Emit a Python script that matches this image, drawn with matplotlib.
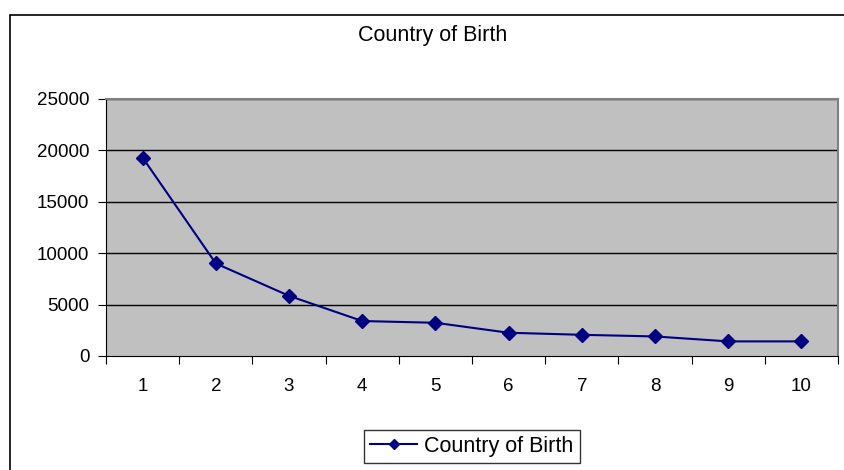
import numpy as np
import matplotlib
matplotlib.use("Agg")
import matplotlib.pyplot as plt
from matplotlib.patches import Rectangle

plt.rcParams['font.family'] = ['Liberation Sans', 'DejaVu Sans']

# data
ranks = [1, 2, 3, 4, 5, 6, 7, 8, 9, 10]
births = [19300, 9000, 5850, 3400, 3230, 2260, 2060, 1900, 1420, 1420]
series_name = 'Country of Birth'
yticks = [0, 5000, 10000, 15000, 20000, 25000]

fig = plt.figure(figsize=(8.44, 4.70), dpi=100)
ax = fig.add_axes([0.1256, 0.2426, 0.8673, 0.5468])

# outer chart border
fig.patches.append(Rectangle((10 / 844, -0.1), 1.0, 1.1 - 15 / 470,
                             transform=fig.transFigure, fill=False,
                             edgecolor='black', linewidth=1.2))

ax.set_facecolor('#c0c0c0')
for yt in yticks[1:]:
    ax.axhline(yt, color='black', linewidth=1, zorder=1)

ax.plot(ranks, births, color='#000080', marker='D', markersize=7,
        linewidth=1.5, label=series_name, zorder=3)

ax.set_xlim(0.5, 10.5)
ax.set_ylim(0, 25000)
ax.set_yticks(yticks)
ax.set_yticklabels([str(v) for v in yticks], fontsize=13.5)

# category axis: ticks between categories, labels at centres
ax.set_xticks(np.arange(0.5, 11, 1))
ax.set_xticklabels([])
ax.set_xticks(ranks, minor=True)
ax.set_xticklabels([str(r) for r in ranks], minor=True, fontsize=13.5)
ax.tick_params(axis='x', which='minor', length=0, pad=16)
ax.tick_params(axis='x', which='major', length=6, direction='out', color='black')
ax.tick_params(axis='y', length=6, direction='out', pad=6)

ax.spines['left'].set_color('black')
ax.spines['bottom'].set_color('black')
ax.spines['top'].set_color('#808080')
ax.spines['right'].set_color('#808080')
ax.spines['top'].set_linewidth(1.5)
ax.spines['right'].set_linewidth(1.5)

fig.text(0.513, 0.925, 'Country of Birth', ha='center', va='center', fontsize=15.5)

leg = fig.legend(loc='center', bbox_to_anchor=(0.5587, 0.05), fontsize=15.5,
                 frameon=True, fancybox=False, edgecolor='black',
                 handlelength=2.2, handletextpad=0.3, borderpad=0.3,
                 markerscale=0.75)
leg.get_frame().set_linewidth(1)

fig.savefig('out.png', dpi=100)
